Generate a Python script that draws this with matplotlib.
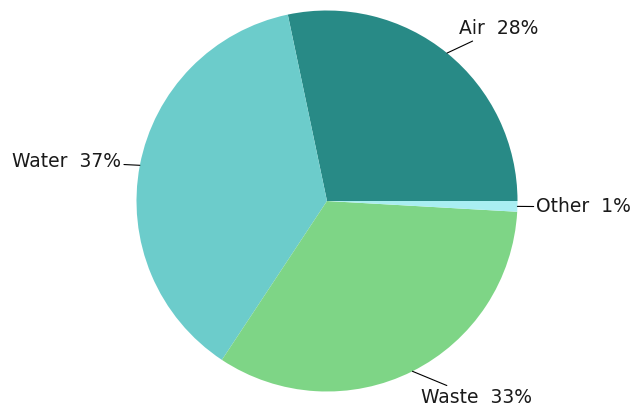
import numpy as np
import matplotlib
matplotlib.use("Agg")
from matplotlib import pyplot as plt

categories = ["Air", "Water", "Waste", "Other"]
values = [28.3, 37.4, 33.4, 0.9]
colors = ["#288A86", "#6CCCCB", "#7ED586", "#A9EEF2"]

plt.rcParams["font.family"] = ["DejaVu Sans"]

fig = plt.figure(figsize=(6.34, 4.15), dpi=100)
# pie centre ~ (327, 201) px, radius ~190 px
r_px = 190.5
ax = fig.add_axes([(327 - r_px) / 634, (415 - 201 - r_px) / 415, 2 * r_px / 634, 2 * r_px / 415])

wedges, _ = ax.pie(values, colors=colors, startangle=0, counterclock=True,
                   wedgeprops=dict(linewidth=0), radius=1)
ax.set_xlim(-1, 1)
ax.set_ylim(-1, 1)
ax.set_aspect("equal")

total = sum(values)
for w, name, v in zip(wedges, categories, values):
    ang = np.deg2rad((w.theta1 + w.theta2) / 2)
    c, s = np.cos(ang), np.sin(ang)
    ha = "left" if c > 0 else "right"
    if s > 0.5:
        va = "bottom"
    elif s < -0.5:
        va = "top"
    else:
        va = "center"
    ax.annotate("%s  %d%%" % (name, round(v / total * 100)),
                xy=(c, s), xytext=(1.1 * c, 1.1 * s),
                ha=ha, va=va, fontsize=13.5, color="#1a1a1a",
                arrowprops=dict(arrowstyle="-", color="black", lw=0.8,
                                shrinkA=0, shrinkB=0),
                annotation_clip=False)

fig.savefig("out.png", dpi=100)
